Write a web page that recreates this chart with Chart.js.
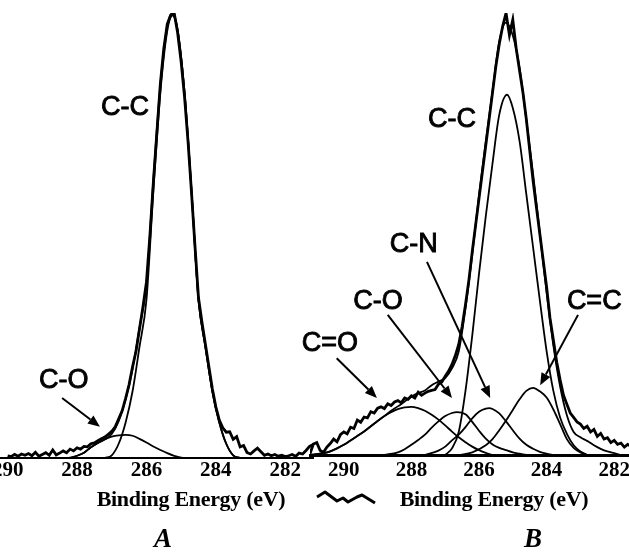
<!DOCTYPE html>
<html>
<head>
<meta charset="utf-8">
<title>C1s XPS spectra</title>
<script src="https://cdn.jsdelivr.net/npm/chart.js@4.4.1/dist/chart.umd.min.js"></script>
<style>
  html, body { margin: 0; padding: 0; background: #fff; }
  #wrap { position: relative; width: 629px; height: 558px; overflow: hidden; background: #fff; }
  canvas { position: absolute; top: 0; }
  #chartA { left: -30px; }
  #chartB { left: 300px; }
  .axisTitle {
    position: absolute; top: 488px; width: 300px; text-align: center;
    font: bold 22px "Liberation Serif", "Times New Roman", serif; line-height: 22px;
    letter-spacing: -0.3px; white-space: nowrap; color: #000;
  }
  .panel {
    position: absolute; top: 525px; width: 60px; text-align: center;
    font: italic bold 27px "Liberation Serif", "Times New Roman", serif; line-height: 27px; color: #000;
  }
  #squiggle { position: absolute; left: 312px; top: 488px; }
</style>
</head>
<body>
<div id="wrap">
  <canvas id="chartA" width="353" height="558"></canvas>
  <canvas id="chartB" width="358" height="558"></canvas>
  <div class="axisTitle" style="left:41px">Binding Energy (eV)</div>
  <div class="axisTitle" style="left:344px">Binding Energy (eV)</div>
  <svg id="squiggle" width="70" height="20">
    <polyline points="5,9 13,4 25,13 31,10 36,14 45,9 50,7 63,15" fill="none" stroke="#000" stroke-width="3" stroke-linejoin="round"/>
  </svg>
  <div class="panel" style="left:133px">A</div>
  <div class="panel" style="left:503px">B</div>
</div>
<script>
// tick labels (binding energy, eV)
const ticksA = [290, 288, 286, 284, 282];
const ticksB = [290, 288, 286, 284, 282];

// ---- Panel A ----
// measured spectrum
const rawEnergyA = [290.0, 289.9, 289.8, 289.7, 289.6, 289.5, 289.4, 289.3, 289.2, 289.1,
  289.0, 288.9, 288.8, 288.7, 288.6, 288.5, 288.4, 288.3, 288.2, 288.1,
  288.0, 287.9, 287.8, 287.7, 287.6, 287.5, 287.4, 287.3, 287.2, 287.1,
  287.0, 286.9, 286.8, 286.7, 286.6, 286.5, 286.4, 286.3, 286.2, 286.1,
  286.0, 285.9, 285.8, 285.7, 285.6, 285.5, 285.4, 285.3, 285.2, 285.1,
  285.0, 284.9, 284.8, 284.7, 284.6, 284.5, 284.4, 284.3, 284.2, 284.1,
  284.0, 283.9, 283.8, 283.7, 283.6, 283.5, 283.4, 283.3, 283.2, 283.1,
  283.0, 282.9, 282.8, 282.7, 282.6, 282.5, 282.4, 282.3, 282.2, 282.1,
  282.0, 281.9, 281.8, 281.7, 281.6, 281.5, 281.4, 281.3, 281.2, 281.1, 281.0];
const rawA = [0.5, 0.3, 0.8, 0.4, 0.9, 0.6, 1.0, 0.5, 1.3, 0.4,
  0.8, 1.2, 0.6, 1.8, 0.7, 1.1, 1.6, 1.2, 2.0, 1.6,
  2.3, 2.0, 2.6, 2.5, 3.2, 3.4, 3.9, 4.3, 4.7, 5.3,
  6.0, 7.0, 8.8, 10.6, 13.4, 16.5, 20.5, 24, 29, 34,
  39.5, 50, 62, 73, 84, 92, 97.5, 99.5, 100, 95.5,
  89, 81, 71, 59.5, 47.5, 36, 30.5, 25.5, 20.5, 15.5,
  11.5, 8.5, 6.8, 5.8, 5.9, 4.2, 4.8, 2.5, 2.8, 1.2,
  0.9, 1.6, 2.2, 1.4, 0.6, 0.9, 0.5, 0.8, 0.4, 0.6,
  0.3, 0.5, 0.8, 0.4, 1.1, 0.9, 1.7, 2.6, 3.0, 2.4, 2.0];

// fitted envelope
const envEnergyA = [288.4, 288.2, 288.0, 287.8, 287.6, 287.4, 287.2, 287.0, 286.8, 286.6,
  286.4, 286.2, 286.0, 285.8, 285.6, 285.4, 285.25, 285.1, 284.9, 284.7,
  284.5, 284.3, 284.1, 283.9, 283.7, 283.5, 283.3];
const envA = [0, 0.1, 0.5, 1.2, 2.4, 3.4, 4.2, 5.4, 8.3, 13.2,
  20, 29.3, 39, 62.6, 83.8, 97.1, 100, 96.2, 82, 60,
  35.5, 25, 15, 8, 3.2, 0.6, 0];

// C-C component
const ccEnergyA = [287.2, 287.0, 286.8, 286.6, 286.4, 286.2, 286.0, 285.8, 285.6, 285.4,
  285.25, 285.1, 284.9, 284.7, 284.5, 284.3, 284.1, 283.9, 283.7, 283.5, 283.3];
const ccA = [0, 0.6, 3.2, 8, 15, 25, 35.5, 60, 82, 96,
  99.5, 96, 82, 60, 35.5, 25, 15, 8, 3.2, 0.6, 0];

// C-O component
const coEnergyA = [288.2, 288.0, 287.8, 287.6, 287.4, 287.2, 287.0, 286.8, 286.6, 286.4,
  286.2, 286.0, 285.8, 285.6, 285.4, 285.2, 285.0, 284.8];
const coA = [0, 0.5, 1.2, 2.4, 3.4, 4.2, 4.8, 5.1, 5.2, 5.0,
  4.3, 3.5, 2.6, 1.8, 1.1, 0.5, 0.1, 0];

// ---- Panel B ----
const rawEnergyB = [291.0, 290.9, 290.8, 290.7, 290.6, 290.5, 290.4, 290.3, 290.2, 290.1,
  290.0, 289.9, 289.8, 289.7, 289.6, 289.5, 289.4, 289.3, 289.2, 289.1,
  289.0, 288.9, 288.8, 288.7, 288.6, 288.5, 288.4, 288.3, 288.2, 288.1,
  288.0, 287.9, 287.8, 287.7, 287.6, 287.5, 287.4, 287.3, 287.2, 287.1,
  287.0, 286.9, 286.8, 286.7, 286.6, 286.5, 286.4, 286.3, 286.2, 286.1,
  286.0, 285.9, 285.8, 285.7, 285.6, 285.5, 285.4, 285.3, 285.2, 285.1,
  285.0, 284.9, 284.8, 284.7, 284.6, 284.5, 284.4, 284.3, 284.2, 284.1,
  284.0, 283.9, 283.8, 283.7, 283.6, 283.5, 283.4, 283.3, 283.2, 283.1,
  283.0, 282.9, 282.8, 282.7, 282.6, 282.5, 282.4, 282.3, 282.2, 282.1,
  282.0, 281.9, 281.8, 281.7, 281.6, 281.5];
const rawB = [0.3, 2.5, 2.8, 1.0, 0.6, 1.8, 2.6, 3.6, 3.0, 4.6,
  5.2, 4.8, 6.3, 6.0, 7.9, 7.4, 8.6, 8.4, 9.8, 9.5,
  10.6, 10.9, 10.5, 11.6, 11.2, 12.0, 12.3, 11.8, 12.9, 12.6,
  13.4, 12.9, 14.2, 13.5, 14.0, 14.4, 14.6, 14.8, 16.0, 16.5,
  17.8, 19.0, 20.5, 22.5, 25.0, 29, 34, 39.5, 46, 52,
  58, 64, 70, 76, 82, 88, 93, 97, 100, 95,
  98.5, 92, 87, 82, 76, 69, 62, 56, 50, 44,
  38, 31, 26, 21, 17, 13.5, 11.5, 9.5, 8.5, 7.5,
  7.0, 6.0, 6.5, 5.2, 5.8, 4.2, 4.9, 3.6, 3.9, 2.8,
  3.3, 2.4, 2.7, 1.8, 2.4, 2.0];

const envEnergyB = [291.0, 290.8, 290.6, 290.4, 290.2, 290.0, 289.8, 289.6, 289.4, 289.2,
  289.0, 288.8, 288.6, 288.4, 288.2, 288.0, 287.8, 287.6, 287.4, 287.2,
  287.0, 286.8, 286.6, 286.4, 286.2, 286.0, 285.8, 285.6, 285.4, 285.2,
  285.0, 284.8, 284.6, 284.4, 284.2, 284.0, 283.8, 283.6, 283.4, 283.2,
  283.0, 282.8, 282.6, 282.4, 282.2, 282.0, 281.8];
const envB = [0, 0.2, 0.4, 0.8, 1.5, 2.3, 3.3, 4.3, 5.3, 6.5,
  7.7, 8.8, 10.0, 11.0, 12.1, 13.2, 14.0, 14.6, 15.8, 16.6,
  17.4, 19.6, 23.4, 33.2, 45.3, 58.8, 70.9, 82.4, 93.6, 97.8,
  94.9, 87.6, 75.8, 63.6, 50.1, 36.8, 24.8, 15.5, 9.0, 5.2,
  4.0, 3.2, 2.2, 1.4, 0.8, 0.4, 0];

const ccEnergyB = [287.0, 286.8, 286.6, 286.4, 286.2, 286.0, 285.8, 285.6, 285.4, 285.17,
  285.0, 284.8, 284.6, 284.4, 284.2, 284.0, 283.8, 283.6, 283.4, 283.2, 283.0, 282.8];
const ccB = [0, 1.5, 5.2, 14.5, 27, 41, 54, 66, 77, 81.5,
  78.5, 71, 59, 47, 35, 23.5, 14.5, 8.5, 4.8, 2.2, 0.8, 0];

const c2cEnergyB = [286.6, 286.2, 285.8, 285.6, 285.4, 285.2, 285.0, 284.8, 284.6, 284.4,
  284.2, 284.0, 283.8, 283.6, 283.4, 283.2, 283.0, 282.8];
const c2cB = [0, 0.6, 2.2, 3.6, 5.6, 7.8, 10.2, 12.6, 14.5, 15.2,
  14.4, 13.0, 10.3, 7.0, 3.6, 1.6, 0.6, 0];

const cnEnergyB = [287.6, 287.2, 287.0, 286.8, 286.6, 286.4, 286.2, 286.0, 285.8, 285.7,
  285.6, 285.4, 285.2, 285.0, 284.8, 284.6, 284.4, 284.2, 284.0, 283.8];
const cnB = [0, 1.0, 1.9, 3.3, 4.6, 6.3, 8.3, 9.8, 10.5, 10.6,
  10.4, 9.4, 7.6, 5.6, 3.7, 2.3, 1.4, 0.7, 0.3, 0];

const coEnergyB = [288.8, 288.4, 288.2, 288.0, 287.8, 287.6, 287.4, 287.2, 287.0, 286.8,
  286.65, 286.4, 286.2, 286.0, 285.8, 285.6, 285.4, 285.2, 285.0, 284.8, 284.6];
const coB = [0, 0.6, 1.3, 2.3, 3.4, 4.6, 6.2, 7.6, 8.8, 9.5,
  9.7, 9.2, 7.5, 5.5, 3.7, 2.4, 1.6, 1.1, 0.6, 0.3, 0];

const c2oEnergyB = [291.0, 290.6, 290.4, 290.2, 290.0, 289.8, 289.6, 289.4, 289.2, 289.0,
  288.8, 288.6, 288.4, 288.2, 288.0, 287.8, 287.6, 287.4, 287.2, 287.0,
  286.8, 286.6, 286.4, 286.2, 286.0, 285.8, 285.6];
const c2oB = [0, 0.4, 0.8, 1.5, 2.3, 3.3, 4.3, 5.3, 6.5, 7.7,
  8.8, 9.7, 10.4, 10.8, 10.9, 10.6, 10.0, 9.1, 8.0, 6.7,
  5.3, 4.0, 2.9, 1.9, 1.1, 0.5, 0];

// annotation anchors (energy, intensity)
const notesA = {
  labels: [
    { text: 'C-C', x: 286.62, y: 78.7 },
    { text: 'C-O', x: 288.38, y: 17.3 }
  ],
  arrows: [
    { from: [288.43, 13.5], to: [287.34, 7.0] }
  ]
};
const notesB = {
  labels: [
    { text: 'C-C', x: 286.8, y: 75.8 },
    { text: 'C-N', x: 287.93, y: 47.7 },
    { text: 'C-O', x: 288.99, y: 34.8 },
    { text: 'C=O', x: 290.41, y: 25.3 },
    { text: 'C=C', x: 282.59, y: 34.8 }
  ],
  arrows: [
    { from: [287.54, 43.7], to: [285.67, 12.9] },
    { from: [288.70, 31.7], to: [286.8, 12.9] },
    { from: [290.21, 21.9], to: [289.02, 12.9] },
    { from: [283.07, 31.7], to: [284.19, 15.8] }
  ]
};

function pts(xs, ys) {
  return xs.map((x, i) => ({ x: x, y: ys[i] }));
}

const bondLabels = {
  id: 'bondLabels',
  afterDatasetsDraw(chart, args, opts) {
    const ctx = chart.ctx;
    const sx = chart.scales.x;
    const sy = chart.scales.y;
    ctx.save();
    ctx.fillStyle = '#000';
    ctx.strokeStyle = '#000';
    ctx.font = '27px "Liberation Sans", Arial, sans-serif';
    ctx.textAlign = 'center';
    ctx.textBaseline = 'middle';
    ctx.lineWidth = 0.9;
    opts.labels.forEach((l) => {
      const px = sx.getPixelForValue(l.x);
      const py = sy.getPixelForValue(l.y);
      ctx.fillText(l.text, px, py);
      ctx.strokeText(l.text, px, py);
    });
    ctx.lineWidth = 2;
    opts.arrows.forEach((a) => {
      const x1 = sx.getPixelForValue(a.from[0]);
      const y1 = sy.getPixelForValue(a.from[1]);
      const x2 = sx.getPixelForValue(a.to[0]);
      const y2 = sy.getPixelForValue(a.to[1]);
      const ang = Math.atan2(y2 - y1, x2 - x1);
      const len = 12;
      const bx = x2 - len * Math.cos(ang);
      const by = y2 - len * Math.sin(ang);
      ctx.beginPath();
      ctx.moveTo(x1, y1);
      ctx.lineTo(bx, by);
      ctx.stroke();
      ctx.beginPath();
      ctx.moveTo(x2, y2);
      ctx.lineTo(bx + 5 * Math.sin(ang), by - 5 * Math.cos(ang));
      ctx.lineTo(bx - 5 * Math.sin(ang), by + 5 * Math.cos(ang));
      ctx.closePath();
      ctx.fill();
    });
    ctx.restore();
  }
};

function line(data, width, smooth) {
  return {
    data: data,
    borderColor: '#000',
    borderWidth: width,
    pointRadius: 0,
    fill: false,
    tension: 0,
    cubicInterpolationMode: smooth ? 'monotone' : 'default'
  };
}

function panel(id, datasets, cfg) {
  return new Chart(document.getElementById(id), {
    type: 'line',
    data: { datasets: datasets },
    plugins: [bondLabels],
    options: {
      responsive: false,
      animation: false,
      parsing: false,
      layout: { autoPadding: false, padding: cfg.padding },
      plugins: {
        legend: { display: false },
        tooltip: { enabled: false },
        bondLabels: cfg.notes
      },
      scales: {
        x: {
          type: 'linear',
          reverse: true,
          min: cfg.min,
          max: cfg.max,
          afterBuildTicks: (s) => { s.ticks = cfg.ticks.map((v) => ({ value: v })); },
          afterFit: (s) => { s.height = cfg.axisHeight; },
          grid: { display: false, drawTicks: false },
          border: { display: true, color: '#000', width: cfg.border },
          ticks: {
            color: '#000',
            padding: cfg.tickPad,
            maxRotation: 0,
            autoSkip: false,
            font: { family: '"Liberation Serif", "Times New Roman", serif', size: 21, weight: 'bold' },
            callback: (v) => String(v)
          }
        },
        y: { display: false, min: 0, max: 100 }
      }
    }
  });
}

panel('chartA', [
  line(pts(coEnergyA, coA), 1.8, true),
  line(pts(ccEnergyA, ccA), 1.8, true),
  line(pts(envEnergyA, envA), 1.8, true),
  line(pts(rawEnergyA, rawA), 2.8, false)
], {
  padding: { left: 30, right: 10, top: 13, bottom: 0 },
  min: 281.2, max: 290.22, ticks: ticksA,
  axisHeight: 100, border: 2, tickPad: 0, notes: notesA
});

panel('chartB', [
  line(pts(c2oEnergyB, c2oB), 1.8, true),
  line(pts(coEnergyB, coB), 1.8, true),
  line(pts(cnEnergyB, cnB), 1.8, true),
  line(pts(c2cEnergyB, c2cB), 1.8, true),
  line(pts(ccEnergyB, ccB), 1.8, true),
  line(pts(envEnergyB, envB), 1.8, true),
  line(pts(rawEnergyB, rawB), 2.8, false)
], {
  padding: { left: 10, right: 10, top: 13, bottom: 0 },
  min: 281.0, max: 291.0, ticks: ticksB,
  axisHeight: 103, border: 3, tickPad: 3, notes: notesB
});
</script>
</body>
</html>
